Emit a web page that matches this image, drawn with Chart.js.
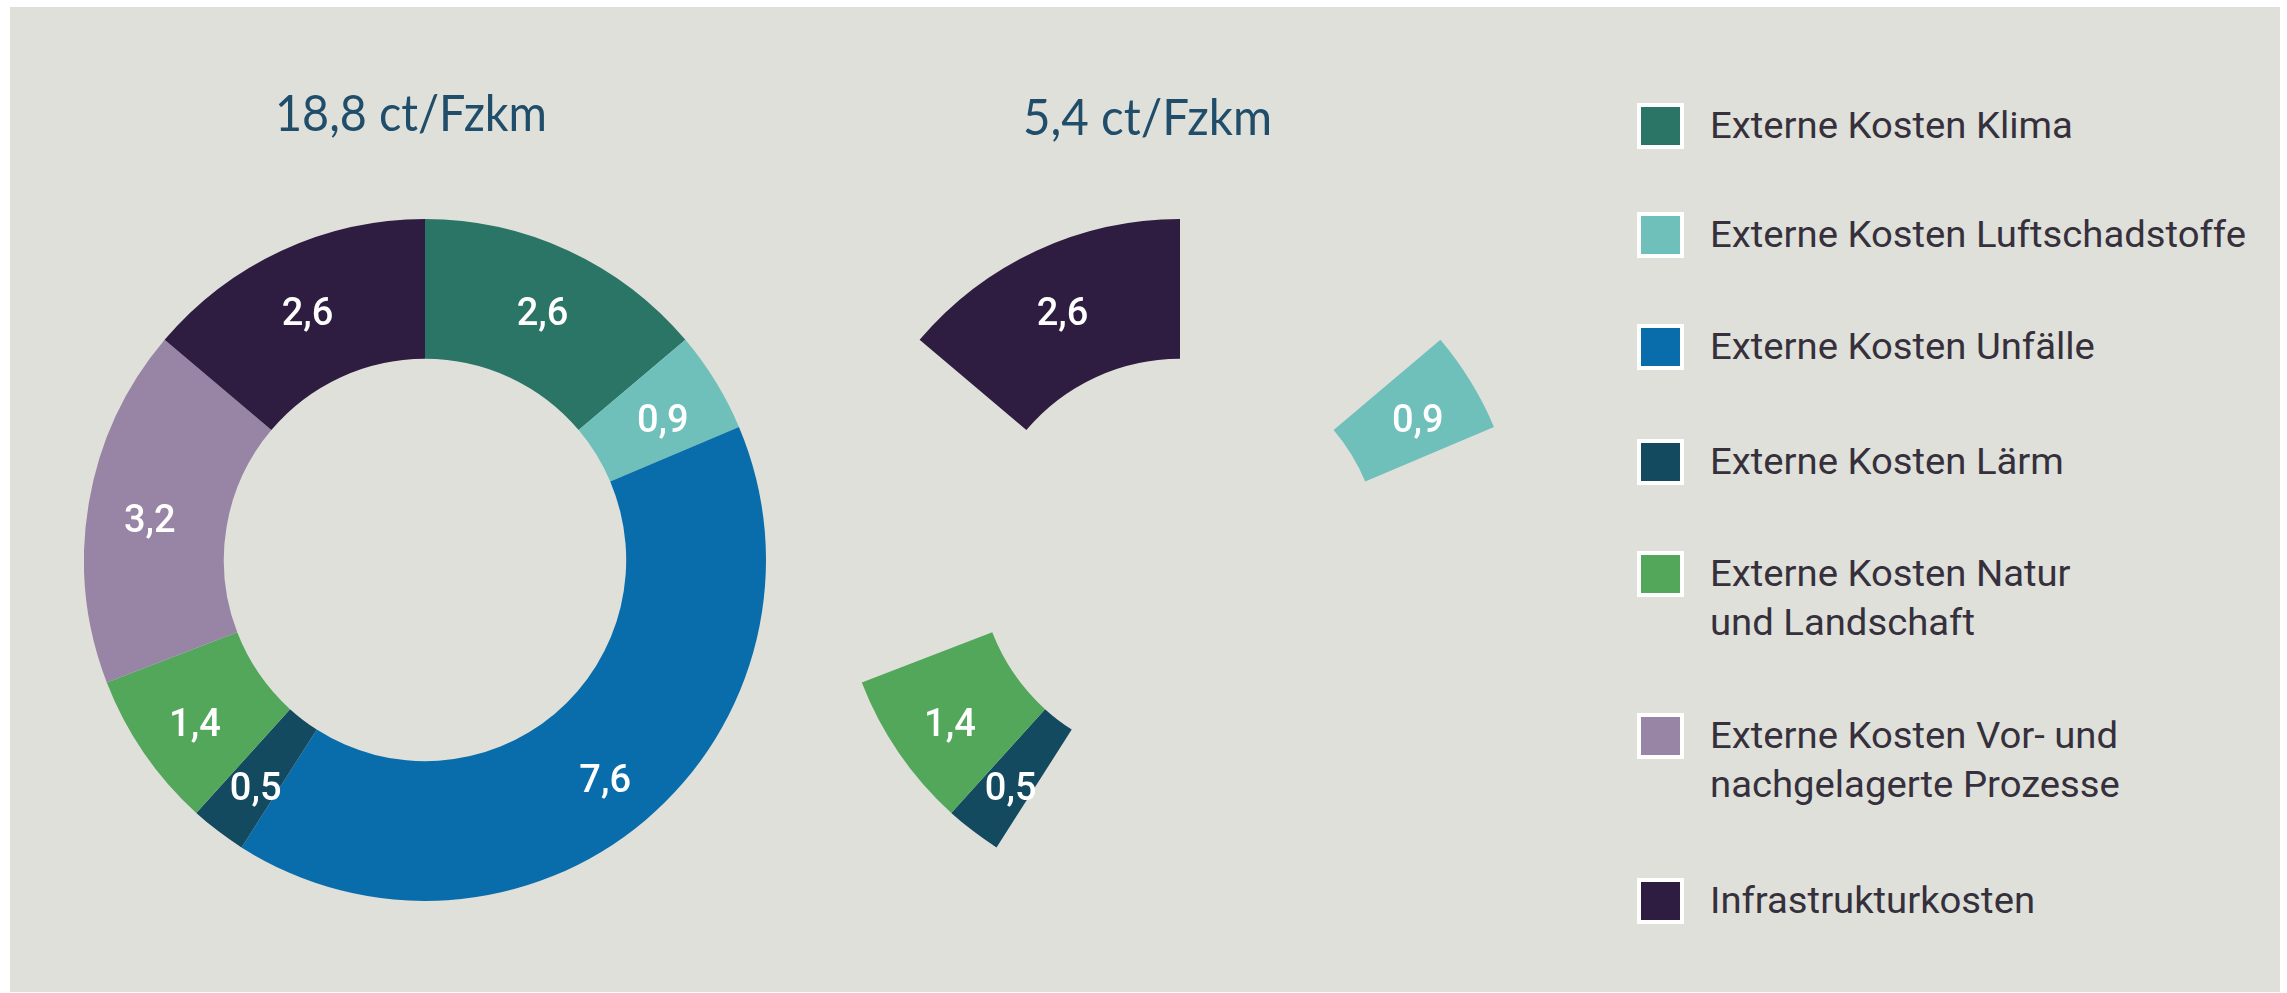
<!DOCTYPE html>
<html><head><meta charset="utf-8">
<script src="https://cdn.jsdelivr.net/npm/chart.js@4/dist/chart.umd.min.js"></script>
<style>
html,body{margin:0;padding:0;background:#fff;width:2287px;height:993px;overflow:hidden;}
#panel{position:absolute;left:10px;top:7px;width:2270px;height:985px;background:#dfe0da;}
canvas{position:absolute;}
.title{position:absolute;font-family:Lato,sans-serif;font-size:50px;line-height:50px;color:#1f4d6a;white-space:nowrap;transform-origin:0 0;}
.sw{position:absolute;left:1637px;width:47px;height:46px;box-sizing:border-box;border:4px solid #fff;}
.lt{position:absolute;left:1710px;font-family:Roboto,sans-serif;font-size:36px;line-height:49px;color:#36303c;white-space:nowrap;transform-origin:0 0;}
</style></head><body>
<div id="panel"></div>
<canvas id="c1" width="682" height="682" style="left:84px;top:219px;width:682px;height:682px"></canvas>
<canvas id="c2" width="682" height="682" style="left:839px;top:219px;width:682px;height:682px"></canvas>
<div id="texts"></div>
<script>
// ---- data ----
const categories = [
  'Externe Kosten Klima',
  'Externe Kosten Luftschadstoffe',
  'Externe Kosten Unfälle',
  'Externe Kosten Lärm',
  'Externe Kosten Natur\nund Landschaft',
  'Externe Kosten Vor- und\nnachgelagerte Prozesse',
  'Infrastrukturkosten'
];
const values = [2.6, 0.9, 7.6, 0.5, 1.4, 3.2, 2.6];
const inSecondChart = [false, true, false, true, true, false, true];
const totals = ['18,8 ct/Fzkm', '5,4 ct/Fzkm'];

// ---- styles / layout ----
const colors = ['#2a7566', '#6fbfba', '#0a6dab', '#134a60', '#53a75b', '#9884a5', '#2e1d41'];
const titleLayout = [{left: 275, top: 87, width: 272}, {left: 1023, top: 91, width: 249}];
const legendTops = [103, 212, 324, 439, 551, 713, 878];

const fmt = v => v.toLocaleString('de-DE', {minimumFractionDigits: 1, maximumFractionDigits: 1});

function labelPlugin(show) {
  return {
    id: 'valueLabels',
    afterDatasetsDraw(chart) {
      const ctx = chart.ctx;
      const meta = chart.getDatasetMeta(0);
      ctx.save();
      ctx.font = '500 38px Roboto, sans-serif';
      ctx.fillStyle = '#ffffff';
      ctx.textAlign = 'center';
      ctx.textBaseline = 'middle';
      meta.data.forEach((arc, i) => {
        if (!show[i]) return;
        const a = arc.getProps(['x', 'y', 'startAngle', 'endAngle', 'innerRadius', 'outerRadius'], true);
        const mid = (a.startAngle + a.endAngle) / 2;
        const r = (a.innerRadius + a.outerRadius) / 2 + 8;
        ctx.fillText(fmt(values[i]), a.x + Math.cos(mid) * r, a.y + Math.sin(mid) * r + 9);
      });
      ctx.restore();
    }
  };
}

function makeChart(id, show) {
  new Chart(document.getElementById(id), {
    type: 'doughnut',
    data: {
      labels: categories.map(c => c.replace('\n', ' ')),
      datasets: [{
        data: values,
        backgroundColor: colors.map((c, i) => show[i] ? c : 'rgba(0,0,0,0)'),
        borderWidth: 0,
        hoverOffset: 0,
        offset: 0
      }]
    },
    options: {
      responsive: false,
      animation: false,
      devicePixelRatio: 1,
      cutout: '59%',
      layout: {padding: 0},
      plugins: {legend: {display: false}, tooltip: {enabled: false}, title: {display: false}}
    },
    plugins: [labelPlugin(show)]
  });
}

makeChart('c1', values.map(() => true));
makeChart('c2', inSecondChart);

// ---- titles & legend (HTML text) ----
const host = document.getElementById('texts');
function fitWidth(el, w) {
  const r = el.getBoundingClientRect().width;
  el.style.transform = 'scaleX(' + (w / r) + ')';
}
totals.forEach((t, i) => {
  const d = document.createElement('div');
  d.className = 'title';
  d.textContent = t;
  d.style.left = titleLayout[i].left + 'px';
  d.style.top = titleLayout[i].top + 'px';
  host.appendChild(d);
  fitWidth(d, titleLayout[i].width);
});
const legendTexts = [];
categories.forEach((c, i) => {
  const sw = document.createElement('div');
  sw.className = 'sw';
  sw.style.top = legendTops[i] + 'px';
  sw.style.background = colors[i];
  host.appendChild(sw);
  c.split('\n').forEach((line, k) => {
    const t = document.createElement('div');
    t.className = 'lt';
    t.textContent = line;
    t.style.top = (legendTops[i] - 1 + k * 49) + 'px';
    host.appendChild(t);
    legendTexts.push(t);
  });
});
const ref = legendTexts[1].getBoundingClientRect().width;
const s = 536 / ref;
legendTexts.forEach(t => t.style.transform = 'scaleX(' + s + ')');
</script>
</body></html>
